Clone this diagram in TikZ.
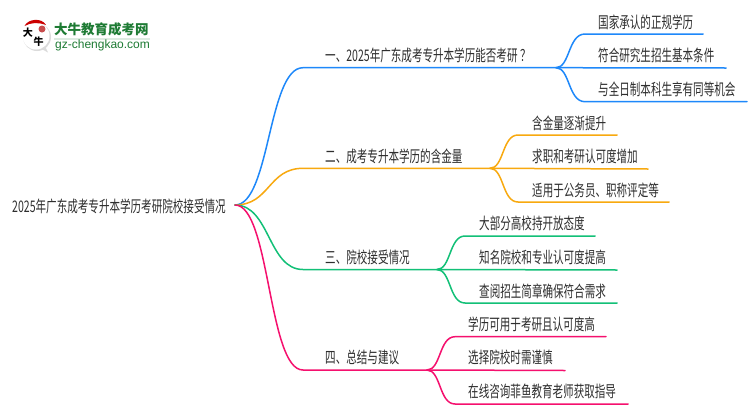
\documentclass[tikz,border=0pt]{standalone}
\usepackage{fontspec}
\setmainfont{Noto Sans CJK SC}
\newfontfamily\latinlogo{Liberation Sans}
\definecolor{cblue}{HTML}{1E88FA}
\definecolor{corange}{HTML}{F8A90F}
\definecolor{cgreen}{HTML}{12C077}
\definecolor{cpink}{HTML}{F5106E}
\definecolor{ctext}{HTML}{2E2E2E}
\definecolor{clogo}{HTML}{1E7B34}
\newcommand{\sq}[1]{\scalebox{0.66}[1]{#1}}
\tikzset{
 x=1pt,y=-1pt,
 lab/.style={anchor=west,inner sep=0pt,text=ctext,font=\fontsize{16}{16}\selectfont},
 conn/.style={line width=1.5pt,line cap=round},
}
\begin{document}
\begin{tikzpicture}
\useasboundingbox (0,0) rectangle (750,410);
\fill[white] (0,0) rectangle (750,410);
% logo
\fill[black!14] (37,37) circle (14);
\fill[black!14] (38,47) -- (48,52.5) -- (44,44) -- cycle;
\fill[white] (36,36) circle (13.5);
\fill[red!80!black] (24.5,26) .. controls (28,18.5) and (42,17.5) .. (46,25) .. controls (38,22) and (31,22.5) .. (24.5,26) -- cycle;
\fill[red!70!black,opacity=.7] (42,29) circle (3.5);
\node[inner sep=0pt,font=\fontsize{10}{10}\selectfont\bfseries] (lgA) at (28,32.5) {大};
\node[inner sep=0pt,font=\fontsize{10}{10}\selectfont\bfseries] (lgB) at (38.5,41.5) {牛};
\node[anchor=west,inner sep=0pt,text=clogo,font=\fontsize{13.5}{13.5}\selectfont\bfseries] (lgT) at (54,29.5) {大牛教育成考网};
\fill[clogo!15] (54,38) rectangle (150,39.5);
\node[anchor=west,inner sep=0pt,text=clogo,font=\fontsize{12}{12}\selectfont\latinlogo] (lgU) at (55,45) {gz-chengkao.com};
% root
\node[lab] (root) at (12,206) {\sq{2025年广东成考专升本学历考研院校接受情况}};
\coordinate (r) at (235,205);
% junctions and ends
\coordinate (j1s) at (303,67.7); \coordinate (j1) at (556,67.7);
\coordinate (j2s) at (303,168.3); \coordinate (j2) at (490,168.3);
\coordinate (j3s) at (303,269.5); \coordinate (j3) at (437,269.5);
\coordinate (j4s) at (303,370); \coordinate (j4) at (427,370);
% branch connectors
\draw[conn,cblue] (r) .. controls (270,205) and (268,67.7) .. (j1s) -- (j1);
\draw[conn,corange] (r) .. controls (270,205) and (268,168.3) .. (j2s) -- (j2);
\draw[conn,cgreen] (r) .. controls (270,205) and (268,269.5) .. (j3s) -- (j3);
\draw[conn,cpink] (r) .. controls (270,205) and (268,370) .. (j4s) -- (j4);
% branch labels
\node[lab] (b1) at (325,55) {\sq{一、2025年广东成考专升本学历能否考研\hspace{4pt}？}};
\node[lab] (b2) at (325,156.5) {\sq{二、成考专升本学历的含金量}};
\node[lab] (b3) at (325,257) {\sq{三、院校接受情况}};
\node[lab] (b4) at (325,357.5) {\sq{四、总结与建议}};
% branch 1 children
\coordinate (a1s) at (585,34); \coordinate (a1e) at (703,34);
\coordinate (a2e) at (726,68);
\coordinate (a3s) at (585,101.7); \coordinate (a3e) at (747,101.7);
\draw[conn,cblue] (j1) .. controls (570,67.7) and (568,34) .. (a1s) -- (a1e);
\draw[conn,cblue] (j1) -- (a2e);
\draw[conn,cblue] (j1) .. controls (570,67.7) and (568,101.7) .. (a3s) -- (a3e);
\node[lab] (a1) at (598,22) {\sq{国家承认的正规学历}};
\node[lab] (a2) at (598,55) {\sq{符合研究生招生基本条件}};
\node[lab] (a3) at (598,89) {\sq{与全日制本科生享有同等机会}};
% branch 2 children
\coordinate (c1s) at (518,135); \coordinate (c1e) at (617,135);
\coordinate (c2e) at (648,169);
\coordinate (c3s) at (518,202); \coordinate (c3e) at (669,202);
\draw[conn,corange] (j2) .. controls (504,168.3) and (502,135) .. (c1s) -- (c1e);
\draw[conn,corange] (j2) -- (c2e);
\draw[conn,corange] (j2) .. controls (504,168.3) and (502,202) .. (c3s) -- (c3e);
\node[lab] (c1) at (532,123) {\sq{含金量逐渐提升}};
\node[lab] (c2) at (532,156) {\sq{求职和考研认可度增加}};
\node[lab] (c3) at (532,190) {\sq{适用于公务员、职称评定等}};
% branch 3 children
\coordinate (d1s) at (465,236); \coordinate (d1e) at (595,236);
\coordinate (d2e) at (617,270);
\coordinate (d3s) at (465,303); \coordinate (d3e) at (617,303);
\draw[conn,cgreen] (j3) .. controls (451,269.5) and (449,236) .. (d1s) -- (d1e);
\draw[conn,cgreen] (j3) -- (d2e);
\draw[conn,cgreen] (j3) .. controls (451,269.5) and (449,303) .. (d3s) -- (d3e);
\node[lab] (d1) at (479,223) {\sq{大部分高校持开放态度}};
\node[lab] (d2) at (479,257) {\sq{知名院校和专业认可度提高}};
\node[lab] (d3) at (479,291) {\sq{查阅招生简章确保符合需求}};
% branch 4 children
\coordinate (e1s) at (455,336.7); \coordinate (e1e) at (606,336.7);
\coordinate (e2e) at (565,370.5);
\coordinate (e3s) at (455,404); \coordinate (e3e) at (628,404);
\draw[conn,cpink] (j4) .. controls (441,370) and (439,336.7) .. (e1s) -- (e1e);
\draw[conn,cpink] (j4) -- (e2e);
\draw[conn,cpink] (j4) .. controls (441,370) and (439,404) .. (e3s) -- (e3e);
\node[lab] (e1) at (468,324) {\sq{学历可用于考研且认可度高}};
\node[lab] (e2) at (468,357) {\sq{选择院校时需谨慎}};
\node[lab] (e3) at (468,391) {\sq{在线咨询菲鱼教育老师获取指导}};
\end{tikzpicture}
\end{document}
